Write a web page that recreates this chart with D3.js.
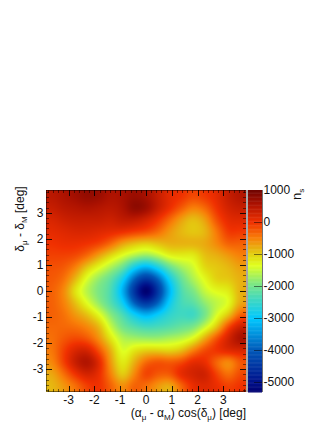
<!DOCTYPE html>
<html>
<head>
<meta charset="utf-8">
<script src="https://cdn.jsdelivr.net/npm/d3@7"></script>
<style>
  html, body { margin: 0; padding: 0; background: #fff; }
  svg { display: block; }
  text { font-family: "Liberation Sans", Arial, sans-serif; font-size: 12px; fill: #111; }
</style>
</head>
<body>
<svg id="container" width="332" height="430"></svg>
<script>
  // values, rows top (+dec) to bottom (-dec), cell centres
  const row00 = [450, 550, 650, 750, 700, 550, 600, 700, 600, 350, 100, 0, -150, -50, 100, 350, 500];
  const row01 = [350, 450, 500, 550, 500, 450, 550, 800, 700, 350, 50, -250, -500, -350, 0, 250, 350];
  const row02 = [200, 300, 350, 350, 350, 300, 400, 400, 250, 0, -350, -700, -900, -700, -200, 100, 150];
  const row03 = [100, 150, 200, 200, 150, 100, 50, -50, -150, -350, -650, -850, -950, -850, -450, -50, -50];
  const row04 = [0, 50, 50, 0, -100, -350, -700, -900, -1000, -900, -800, -800, -800, -750, -550, -300, -300];
  const row05 = [-100, -100, -150, -350, -700, -1050, -1350, -1600, -1750, -1550, -1250, -1200, -1200, -900, -800, -650, -500];
  const row06 = [-200, -250, -500, -950, -1300, -1650, -2050, -2800, -3200, -2750, -2100, -1700, -1450, -1050, -950, -850, -700];
  const row07 = [-250, -400, -850, -1400, -1800, -2150, -2800, -3900, -4500, -3950, -2850, -2100, -1650, -1300, -1000, -950, -800];
  const row08 = [-300, -550, -1150, -1600, -1950, -2300, -3200, -4500, -5400, -4500, -3200, -2300, -1950, -1500, -1300, -1200, -800];
  const row09 = [-300, -500, -900, -1350, -1800, -2250, -2850, -3950, -4500, -3950, -2900, -2350, -2200, -1800, -1550, -1350, -750];
  const row10 = [-300, -400, -650, -900, -1300, -1850, -2300, -2850, -3200, -2900, -2550, -2400, -2450, -2000, -1400, -950, -300];
  const row11 = [-350, -350, -400, -550, -850, -1500, -2000, -2250, -2400, -2350, -2250, -2100, -1950, -1500, -950, -150, 300];
  const row12 = [-400, -250, -150, -250, -600, -1150, -1600, -1700, -1750, -1750, -1650, -1550, -1300, -750, -200, 250, 600];
  const row13 = [-450, -100, 200, 250, -200, -800, -1400, -1150, -1000, -1000, -1050, -900, -500, -150, 0, 150, 200];
  const row14 = [-550, -100, 350, 550, 150, -650, -1200, -800, -350, -200, -250, -150, 100, 50, -350, -600, -250];
  const row15 = [-750, -400, 0, 250, 50, -500, -1000, -550, -100, -250, -250, 100, 250, 300, -100, -400, -150];
  const row16 = [-850, -650, -400, -100, 0, -300, -600, -300, -400, -650, -800, -350, 50, 150, 50, -100, 0];
  const grid = [row00, row01, row02, row03, row04, row05, row06, row07, row08, row09, row10, row11, row12, row13, row14, row15, row16];

  const xTicks = [-3, -2, -1, 0, 1, 2, 3];
  const yTicks = [-3, -2, -1, 0, 1, 2, 3];
  const barTicks = [1000, 0, -1000, -2000, -3000, -4000, -5000];
  const colorStops = [-5300, -5000, -4000, -3000, -2400, -1900, -1350, -1100, -800, -500, 0, 600, 1000];
  const colorValues = ['#000070', '#00108a', '#0058b8', '#00c8ff', '#40d8c0', '#80e880', '#e0ff20', '#e0e010', '#e8b010', '#f88008', '#f03000', '#a81000', '#700400'];

  const LEFT = 46, RIGHT = 246, TOP = 190, BOTTOM = 392;
  const EXTENT = 3.875;

  const svg = d3.select('#container');
  const x = d3.scaleLinear().domain([-EXTENT, EXTENT]).range([LEFT, RIGHT]);
  const y = d3.scaleLinear().domain([-EXTENT, EXTENT]).range([BOTTOM, TOP]);
  const color = d3.scaleLinear().domain(colorStops).range(colorValues).clamp(true);
  const barY = d3.scaleLinear().domain([1000, -5300]).range([TOP, BOTTOM]);

  // smooth the cells with a catmull-rom patch, only for painting the map
  const n = grid.length;
  const cell = (j, i) => grid[Math.max(0, Math.min(n - 1, j))][Math.max(0, Math.min(n - 1, i))];
  const cr = (a, b, c, d, t) =>
    b + 0.5 * t * (c - a + t * (2 * a - 5 * b + 4 * c - d + t * (3 * (b - c) + d - a)));
  const valueAt = (gx, gy) => {
    const i = Math.floor(gx), j = Math.floor(gy);
    const tx = gx - i, ty = gy - j;
    const rows = [-1, 0, 1, 2].map((k) =>
      cr(cell(j + k, i - 1), cell(j + k, i), cell(j + k, i + 1), cell(j + k, i + 2), tx));
    return cr(rows[0], rows[1], rows[2], rows[3], ty);
  };

  const big = document.createElement('canvas');
  big.width = RIGHT - LEFT;
  big.height = BOTTOM - TOP;
  const bctx = big.getContext('2d');
  const img = bctx.createImageData(big.width, big.height);
  const gridX = d3.scaleLinear().domain([0, big.width]).range([-0.5, n - 0.5]);
  const gridY = d3.scaleLinear().domain([0, big.height]).range([-0.5, n - 0.5]);
  const buffer = new Float64Array(big.width * big.height);
  for (let py = 0; py < big.height; py++) {
    for (let px = 0; px < big.width; px++) {
      buffer[py * big.width + px] = valueAt(gridX(px + 0.5), gridY(py + 0.5));
    }
  }
  d3.blur2({ data: buffer, width: big.width, height: big.height }, 2);
  buffer.forEach((v, k) => {
    const c = d3.rgb(color(v));
    img.data[k * 4] = c.r;
    img.data[k * 4 + 1] = c.g;
    img.data[k * 4 + 2] = c.b;
    img.data[k * 4 + 3] = 255;
  });
  bctx.putImageData(img, 0, 0);
  svg.append('image')
    .attr('x', LEFT).attr('y', TOP)
    .attr('width', big.width).attr('height', big.height)
    .attr('href', big.toDataURL());

  // colour bar
  const barValues = d3.range(1000, -5300, -25);
  svg.selectAll('rect.bar')
    .data(barValues)
    .enter()
    .append('rect')
    .attr('class', 'bar')
    .attr('x', 248).attr('width', 14)
    .attr('y', (d) => barY(d))
    .attr('height', (d) => barY(d - 25) - barY(d) + 0.5)
    .attr('fill', (d) => color(d));

  svg.append('rect')
    .attr('x', 246).attr('y', TOP).attr('width', 2).attr('height', BOTTOM - TOP)
    .attr('fill', '#a8a8a8');

  svg.append('line')
    .attr('x1', 262.5).attr('x2', 262.5).attr('y1', TOP).attr('y2', BOTTOM)
    .attr('stroke', '#000').attr('stroke-opacity', 0.55);

  svg.selectAll('line.barTick')
    .data(barTicks.slice(1))
    .enter()
    .append('line')
    .attr('class', 'barTick')
    .attr('x1', 254).attr('x2', 262)
    .attr('y1', (d) => Math.round(barY(d)) + 0.5)
    .attr('y2', (d) => Math.round(barY(d)) + 0.5)
    .attr('stroke', '#000').attr('stroke-opacity', 0.5);

  svg.selectAll('text.barLabel')
    .data(barTicks)
    .enter()
    .append('text')
    .attr('class', 'barLabel')
    .attr('x', 263.5)
    .attr('y', (d) => barY(d) + 4)
    .text((d) => d);

  // ticks on all four sides of the map
  const minor = d3.range(-38, 39, 2).map((d) => d / 10);
  const isMajor = (d) => Number.isInteger(d);

  const drawTicks = (values, axis) => {
    const g = svg.append('g')
      .attr('fill', 'none');
    g.selectAll('line')
      .data(values)
      .enter()
      .append('line')
      .attr('stroke', '#000')
      .attr('stroke-opacity', (d) => (isMajor(d) ? 0.85 : 0.5))
      .each(function (d) {
        const len = isMajor(d) ? 6 : 3;
        const sel = d3.select(this);
        if (axis === 'bottom' || axis === 'top') {
          const px = Math.round(x(d)) + 0.5;
          const y0 = axis === 'bottom' ? BOTTOM : TOP;
          sel.attr('x1', px).attr('x2', px)
            .attr('y1', y0).attr('y2', axis === 'bottom' ? y0 - len : y0 + len);
        } else {
          const py = Math.round(y(d)) + 0.5;
          const x0 = axis === 'left' ? LEFT : RIGHT;
          sel.attr('y1', py).attr('y2', py)
            .attr('x1', x0).attr('x2', axis === 'left' ? x0 + len : x0 - len);
        }
      });
  };
  ['left', 'right', 'top', 'bottom'].forEach((axis) => drawTicks(minor, axis));

  svg.append('path')
    .attr('d', `M${LEFT + 0.5},${TOP}V${BOTTOM - 0.5}H${RIGHT}M${LEFT},${TOP + 0.5}H${RIGHT}`)
    .attr('fill', 'none').attr('stroke', '#000').attr('stroke-opacity', 0.45);

  // tick labels
  svg.selectAll('text.xLabel')
    .data(xTicks)
    .enter()
    .append('text')
    .attr('class', 'xLabel')
    .attr('x', (d) => x(d))
    .attr('y', 404)
    .attr('text-anchor', 'middle')
    .text((d) => d);

  svg.selectAll('text.yLabel')
    .data(yTicks)
    .enter()
    .append('text')
    .attr('class', 'yLabel')
    .attr('x', 43.5)
    .attr('y', (d) => y(d) + 4)
    .attr('text-anchor', 'end')
    .text((d) => d);

  // labels with subscripts
  const addLabel = (node, parts) => {
    parts.forEach((p) => {
      const t = node.append('tspan').text(p[0]);
      if (p[1]) t.attr('dy', 3).style('font-size', '8px');
      else if (p[2]) t.attr('dy', -3);
    });
  };

  const xTitle = svg.append('text').attr('x', 246).attr('y', 417).attr('text-anchor', 'end');
  addLabel(xTitle, [['(\u03b1'], ['\u03bc', 1], [' - \u03b1', 0, 1], ['M', 1], [') cos(\u03b4', 0, 1], ['\u03bc', 1], [') [deg]', 0, 1]]);

  const yTitle = svg.append('text')
    .attr('transform', 'translate(24,219) rotate(-90)')
    .attr('text-anchor', 'middle');
  addLabel(yTitle, [['\u03b4'], ['\u03bc', 1], [' - \u03b4', 0, 1], ['M', 1], [' [deg]', 0, 1]]);

  const barTitle = svg.append('text')
    .attr('transform', 'translate(301,200) rotate(-90)')
    .style('font-size', '13px');
  addLabel(barTitle, [['n'], ['s', 1]]);
</script>
</body>
</html>
